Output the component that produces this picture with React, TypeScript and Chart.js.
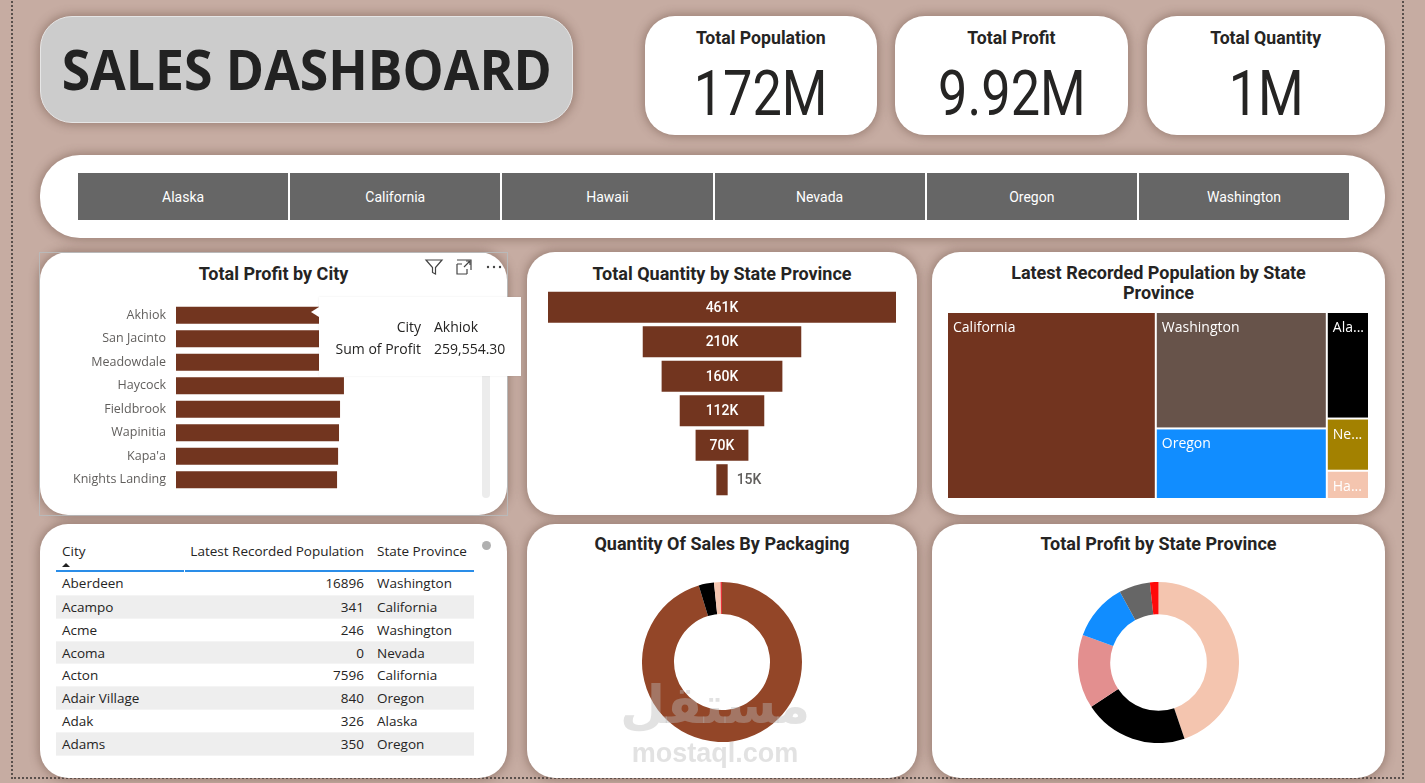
import React, { useEffect, useRef } from "react";
import { Chart, registerables } from "chart.js";

Chart.register(...registerables);

// ---------------- DATA ----------------
const dashboardTitle = "SALES DASHBOARD";
const kpiTitles = ["Total Population", "Total Profit", "Total Quantity"];
const kpiValues = ["172M", "9.92M", "1M"];

const slicerStates = ["Alaska", "California", "Hawaii", "Nevada", "Oregon", "Washington"];

const cityNames = ["Akhiok", "San Jacinto", "Meadowdale", "Haycock", "Fieldbrook", "Wapinitia", "Kapa'a", "Knights Landing"];
const cityProfit = [259554.3, 215000, 190000, 146400, 143000, 142100, 141300, 140400];
const tooltipCity = "Akhiok";
const tooltipProfit = "259,554.30";

const funnelStates = ["California", "Washington", "Oregon", "Alaska", "Nevada", "Hawaii"];
const funnelQuantity = [461000, 210000, 160000, 112000, 70000, 15000];

const treemapStates = ["California", "Washington", "Oregon", "Alaska", "Nevada", "Hawaii"];
const treemapPopulation = [85.1e6, 43.4e6, 26.3e6, 9.8e6, 4.8e6, 2.6e6];
const treemapColumnSizes = [1, 2, 3];
const treemapColors = ["#72341f", "#67534a", "#118dff", "#000000", "#a38100", "#f4c5af"];

const tableHeaders = ["City", "Latest Recorded Population", "State Province"];
const tableCities = ["Aberdeen", "Acampo", "Acme", "Acoma", "Acton", "Adair Village", "Adak", "Adams", "Addy"];
const tablePopulation = [16896, 341, 246, 0, 7596, 840, 326, 350, 369];
const tableStates = ["Washington", "California", "Washington", "Nevada", "California", "Oregon", "Alaska", "Oregon", "Washington"];

const packagingTypes = ["Each", "Packet", "Bag", "Pair"];
const packagingQuantity = [953000, 31000, 13000, 3000];
const packagingColors = ["#934628", "#000000", "#f4c5af", "#e8333a"];

const profitStates = ["California", "Washington", "Oregon", "Alaska", "Nevada", "Hawaii"];
const profitByState = [4.44e6, 2.08e6, 1.47e6, 1.14e6, 0.62e6, 0.17e6];
const profitColors = ["#f4c5af", "#000000", "#e38f8f", "#118dff", "#666666", "#ff0a0a"];

// ---------------- STYLE ----------------
const PAGE_BG = "#c6aca2";
const DIN = "Roboto, 'DejaVu Sans', sans-serif";
const UI = "'Segoe UI', 'Open Sans', sans-serif";
const TEXT = "#252423";
const SHADOW = "0 0 10px 2px rgba(105,75,65,0.45)";

const sum = (a: number[]) => a.reduce((s, v) => s + v, 0);

// treemap drawing through the chart's own linear scales
const treemapPlugin = {
  id: "treemapCells",
  afterDatasetsDraw(chart: any) {
    const { ctx } = chart;
    const xs = chart.scales.x;
    const ys = chart.scales.y;
    const total = sum(treemapPopulation);
    let idx = 0;
    let x0 = 0;
    ctx.save();
    ctx.font = `14px ${UI}`;
    ctx.textBaseline = "top";
    treemapColumnSizes.forEach((count) => {
      const vals = treemapPopulation.slice(idx, idx + count);
      const colSum = sum(vals);
      const x1 = x0 + colSum / total;
      let y0 = 0;
      vals.forEach((v, k) => {
        const i = idx + k;
        const y1 = y0 + v / colSum;
        const left = xs.getPixelForValue(x0) + 1;
        const right = xs.getPixelForValue(x1) - 1;
        const top = ys.getPixelForValue(y0) + 1;
        const bottom = ys.getPixelForValue(y1) - 1;
        ctx.fillStyle = treemapColors[i];
        ctx.fillRect(left, top, right - left, bottom - top);
        let label = treemapStates[i];
        const maxW = right - left - 6;
        if (ctx.measureText(label).width > maxW) {
          let n = label.length;
          while (n > 1 && ctx.measureText(label.slice(0, n) + "...").width > maxW) n--;
          label = label.slice(0, n) + "...";
        }
        ctx.fillStyle = "#ffffff";
        ctx.fillText(label, left + 5, top + 8);
        y0 = y1;
      });
      idx += count;
      x0 = x1;
    });
    ctx.restore();
  },
};

const funnelLabelPlugin = {
  id: "funnelLabels",
  afterDatasetsDraw(chart: any) {
    const ctx = chart.ctx;
    const meta = chart.getDatasetMeta(0);
    ctx.save();
    ctx.font = `500 14px ${DIN}`;
    ctx.textBaseline = "middle";
    meta.data.forEach((bar: any, i: number) => {
      const label = Math.round(funnelQuantity[i] / 1000) + "K";
      const left = Math.min(bar.x, bar.base);
      const right = Math.max(bar.x, bar.base);
      const w = ctx.measureText(label).width;
      if (right - left > w + 8) {
        ctx.fillStyle = "#ffffff";
        ctx.textAlign = "center";
        ctx.fillText(label, (left + right) / 2, bar.y + 1);
      } else {
        ctx.fillStyle = "#605e5c";
        ctx.textAlign = "left";
        ctx.fillText(label, right + 9, bar.y + 1);
      }
    });
    ctx.restore();
  },
};

function Card(props: any) {
  const { left, top, width, height, bg = "#ffffff", radius = 28, children, style } = props;
  return (
    <div
      style={{
        position: "absolute",
        left,
        top,
        width,
        height,
        background: bg,
        borderRadius: radius,
        boxShadow: SHADOW,
        ...style,
      }}
    >
      {children}
    </div>
  );
}

function CardTitle({ text, top = 12 }: any) {
  return (
    <div
      style={{
        position: "absolute",
        left: 0,
        right: 0,
        top,
        textAlign: "center",
        fontFamily: DIN,
        fontWeight: 700,
        fontSize: 18,
        lineHeight: "20px",
        color: TEXT,
        whiteSpace: "nowrap",
      }}
    >
      {text}
    </div>
  );
}

function Abs(props: any) {
  const { left, top, width, height, children, style } = props;
  return <div style={{ position: "absolute", left, top, width, height, ...style }}>{children}</div>;
}

export default function App() {
  const barRef = useRef<HTMLCanvasElement>(null);
  const funnelRef = useRef<HTMLCanvasElement>(null);
  const treeRef = useRef<HTMLCanvasElement>(null);
  const packRef = useRef<HTMLCanvasElement>(null);
  const profitRef = useRef<HTMLCanvasElement>(null);

  useEffect(() => {
    const charts: Chart[] = [];
    const noPlugins = { legend: { display: false }, tooltip: { enabled: false } };

    charts.push(
      new Chart(barRef.current!, {
        type: "bar",
        data: {
          labels: cityNames,
          datasets: [
            {
              data: cityProfit,
              backgroundColor: "#72351f",
              categoryPercentage: 1,
              barPercentage: 0.73,
            },
          ],
        },
        options: {
          indexAxis: "y",
          responsive: false,
          animation: false,
          events: [],
          layout: { padding: 0 },
          plugins: noPlugins as any,
          scales: {
            x: { display: false, min: 0, max: 265000 },
            y: {
              grid: { display: false, drawTicks: false },
              border: { display: false },
              ticks: { padding: 10, color: "#605e5c", font: { family: UI, size: 12.5 } },
              afterFit(scale: any) {
                scale.width = 126;
              },
            },
          },
        },
      })
    );

    charts.push(
      new Chart(funnelRef.current!, {
        type: "bar",
        data: {
          labels: funnelStates,
          datasets: [
            {
              data: funnelQuantity.map((v) => [-v / 2, v / 2]) as any,
              backgroundColor: "#72351f",
              categoryPercentage: 1,
              barPercentage: 0.9,
            },
          ],
        },
        options: {
          indexAxis: "y",
          responsive: false,
          animation: false,
          events: [],
          layout: { padding: 0 },
          plugins: noPlugins as any,
          scales: {
            x: { display: false, min: -funnelQuantity[0] / 2, max: funnelQuantity[0] / 2 },
            y: { display: false },
          },
        },
        plugins: [funnelLabelPlugin],
      })
    );

    charts.push(
      new Chart(treeRef.current!, {
        type: "scatter",
        data: { datasets: [{ data: [] }] },
        options: {
          responsive: false,
          animation: false,
          events: [],
          layout: { padding: 0 },
          plugins: noPlugins as any,
          scales: {
            x: { type: "linear", min: 0, max: 1, display: false },
            y: { type: "linear", min: 0, max: 1, reverse: true, display: false },
          },
        },
        plugins: [treemapPlugin],
      })
    );

    charts.push(
      new Chart(packRef.current!, {
        type: "doughnut",
        data: {
          labels: packagingTypes,
          datasets: [{ data: packagingQuantity, backgroundColor: packagingColors, borderWidth: 0 }],
        },
        options: {
          responsive: false,
          animation: false,
          events: [],
          cutout: "60%",
          layout: { padding: 0 },
          plugins: noPlugins as any,
        },
      })
    );

    charts.push(
      new Chart(profitRef.current!, {
        type: "doughnut",
        data: {
          labels: profitStates,
          datasets: [{ data: profitByState, backgroundColor: profitColors, borderWidth: 0 }],
        },
        options: {
          responsive: false,
          animation: false,
          events: [],
          cutout: "60%",
          layout: { padding: 0 },
          plugins: noPlugins as any,
        },
      })
    );

    return () => charts.forEach((c) => c.destroy());
  }, []);

  const kpiBoxes = [
    { left: 645, width: 232 },
    { left: 895, width: 233 },
    { left: 1147, width: 238 },
  ];

  return (
    <div
      style={{
        position: "fixed",
        left: 0,
        top: 0,
        width: 1425,
        height: 783,
        background: PAGE_BG,
        overflow: "hidden",
        fontFamily: UI,
      }}
    >
      {/* canvas border (dotted) */}
      <div
        style={{
          position: "absolute",
          left: 11,
          top: -4,
          width: 1393,
          height: 783,
          border: "2px dotted #5a504c",
          boxSizing: "border-box",
        }}
      />

      {/* Title */}
      <Card left={40} top={16} width={533} height={107} bg="#cccccc" radius={32} style={{ border: "1px solid #e6e6e6", boxSizing: "border-box" }}>
        <div
          style={{
            position: "absolute",
            left: 0,
            right: 0,
            top: 21,
            textAlign: "center",
            fontFamily: "'Open Sans', sans-serif",
            fontWeight: 700,
            fontSize: 55,
            lineHeight: "62px",
            color: "#222222",
            whiteSpace: "nowrap",
          }}
        >
          <span style={{ display: "inline-block", transform: "scaleX(0.94)" }}>{dashboardTitle}</span>
        </div>
      </Card>

      {/* KPIs */}
      {kpiBoxes.map((b, i) => (
        <Card key={i} left={b.left} top={16} width={b.width} height={119} radius={30}>
          <div
            style={{
              position: "absolute",
              left: 0,
              right: 0,
              top: 10,
              textAlign: "center",
              fontFamily: DIN,
              fontWeight: 700,
              fontSize: 19,
              color: TEXT,
              whiteSpace: "nowrap",
            }}
          >
            <span style={{ display: "inline-block", transform: "scaleX(0.93)" }}>{kpiTitles[i]}</span>
          </div>
          <div
            style={{
              position: "absolute",
              left: 0,
              right: 0,
              top: 41,
              textAlign: "center",
              fontFamily: DIN,
              fontWeight: 400,
              fontSize: 63,
              lineHeight: "74px",
              color: TEXT,
            }}
          >
            <span style={{ display: "inline-block", transform: "scaleX(0.83)" }}>{kpiValues[i]}</span>
          </div>
        </Card>
      ))}

      {/* Slicer */}
      <Card left={40} top={155} width={1345} height={83} radius={40}>
        <div
          style={{
            position: "absolute",
            left: 38,
            top: 18,
            width: 1271,
            height: 47,
            display: "flex",
            background: "#ffffff",
          }}
        >
          {slicerStates.map((s, i) => (
            <div
              key={s}
              style={{
                flex: 1,
                marginLeft: i === 0 ? 0 : 2,
                background: "#666666",
                color: "#ffffff",
                display: "flex",
                alignItems: "center",
                justifyContent: "center",
                fontFamily: DIN,
                fontSize: 14,
              }}
            >
              {s}
            </div>
          ))}
        </div>
      </Card>

      {/* Row 2 cards */}
      <Card left={40} top={252} width={467} height={263}>
        <CardTitle text="Total Profit by City" />
      </Card>
      <div style={{ position: "absolute", left: 39, top: 252, width: 469, height: 264, border: "1px solid #b9b9b9", boxSizing: "border-box" }} />
      <Card left={527} top={252} width={390} height={263}>
        <CardTitle text="Total Quantity by State Province" />
      </Card>
      <Card left={932} top={252} width={453} height={263}>
        <CardTitle text={"Latest Recorded Population by State"} top={11} />
        <CardTitle text={"Province"} top={31} />
      </Card>

      {/* Row 3 cards */}
      <Card left={40} top={524} width={467} height={254} />
      <Card left={527} top={524} width={390} height={254}>
        <CardTitle text="Quantity Of Sales By Packaging" top={10} />
      </Card>
      <Card left={932} top={524} width={453} height={254}>
        <CardTitle text="Total Profit by State Province" top={10} />
      </Card>

      {/* Charts */}
      <Abs left={50} top={286} width={430} height={223}>
        <canvas ref={barRef} width={430} height={223} style={{ width: 430, height: 223 }} />
      </Abs>
      <Abs left={548} top={290} width={348} height={207}>
        <canvas ref={funnelRef} width={348} height={207} style={{ width: 348, height: 207 }} />
      </Abs>
      <Abs left={947} top={312} width={422} height={187}>
        <canvas ref={treeRef} width={422} height={187} style={{ width: 422, height: 187 }} />
      </Abs>
      <Abs left={642} top={582} width={160} height={160}>
        <canvas ref={packRef} width={160} height={160} style={{ width: 160, height: 160 }} />
      </Abs>
      <Abs left={1078} top={582} width={161} height={161}>
        <canvas ref={profitRef} width={161} height={161} style={{ width: 161, height: 161 }} />
      </Abs>

      {/* Visual header icons */}
      <Abs left={424} top={257} width={20} height={20}>
        <svg width="20" height="20" viewBox="0 0 20 20">
          <path d="M2 3 H18 L11.5 10.5 V17 L8.5 15.5 V10.5 Z" fill="none" stroke="#444" strokeWidth="1.2" />
        </svg>
      </Abs>
      <Abs left={454} top={257} width={20} height={20}>
        <svg width="20" height="20" viewBox="0 0 20 20">
          <path d="M3 7 V17 H13" fill="none" stroke="#444" strokeWidth="1.2" />
          <path d="M3 7 H8 M13 17 V12 M3 3 H17 V13" fill="none" stroke="#444" strokeWidth="1.2" />
          <path d="M10 10 L16 4 M12 4 H16 V8" fill="none" stroke="#444" strokeWidth="1.2" />
        </svg>
      </Abs>
      <Abs left={485} top={257} width={20} height={20}>
        <svg width="20" height="20" viewBox="0 0 20 20">
          <circle cx="3" cy="10" r="1.2" fill="#444" />
          <circle cx="9" cy="10" r="1.2" fill="#444" />
          <circle cx="15" cy="10" r="1.2" fill="#444" />
        </svg>
      </Abs>

      {/* scrollbar of bar chart */}
      <Abs left={482} top={368} width={8} height={130} style={{ background: "#ececec", borderRadius: 4 }} />

      {/* tooltip overlay */}
      <Abs left={319} top={297} width={202} height={79} style={{ background: "#ffffff", boxShadow: "0 0 2px rgba(0,0,0,0.08)" }}>
        <div style={{ position: "absolute", left: -8, top: 10, width: 0, height: 0, borderTop: "5px solid transparent", borderBottom: "5px solid transparent", borderRight: "8px solid #ffffff" }} />
        <div style={{ position: "absolute", left: 0, top: 19, width: 102, textAlign: "right", fontFamily: UI, fontSize: 14, color: TEXT, lineHeight: "22px" }}>
          <div>City</div>
          <div>Sum of Profit</div>
        </div>
        <div style={{ position: "absolute", left: 115, top: 19, fontFamily: UI, fontSize: 14, color: TEXT, lineHeight: "22px" }}>
          <div>{tooltipCity}</div>
          <div>{tooltipProfit}</div>
        </div>
      </Abs>

      {/* Table */}
      <Abs left={56} top={537} width={418} height={225} style={{ overflow: "hidden", fontFamily: UI, fontSize: 13.5, color: TEXT }}>
        <div style={{ display: "flex", height: 35 }}>
          <div style={{ width: 128, borderBottom: "2px solid #2a8de8", position: "relative" }}>
            <div style={{ position: "absolute", left: 6, top: 5 }}>{tableHeaders[0]}</div>
            <div style={{ position: "absolute", left: 6, top: 26, width: 0, height: 0, borderLeft: "4px solid transparent", borderRight: "4px solid transparent", borderBottom: "4px solid #222" }} />
          </div>
          <div style={{ width: 1 }} />
          <div style={{ width: 184, borderBottom: "2px solid #2a8de8", position: "relative" }}>
            <div style={{ position: "absolute", right: 5, top: 5, whiteSpace: "nowrap" }}>{tableHeaders[1]}</div>
          </div>
          <div style={{ width: 105, borderBottom: "2px solid #2a8de8", position: "relative" }}>
            <div style={{ position: "absolute", left: 8, top: 5, whiteSpace: "nowrap" }}>{tableHeaders[2]}</div>
          </div>
        </div>
        {tableCities.map((c, i) => (
          <div key={c} style={{ display: "flex", height: 22.85, background: i % 2 === 1 ? "#eeeeee" : "#ffffff", borderTop: i > 0 ? "1px solid #f4f4f4" : "none", boxSizing: "border-box", lineHeight: "22px" }}>
            <div style={{ width: 129, paddingLeft: 6, boxSizing: "border-box", whiteSpace: "nowrap" }}>{c}</div>
            <div style={{ width: 184, textAlign: "right", paddingRight: 5, boxSizing: "border-box" }}>{tablePopulation[i]}</div>
            <div style={{ width: 105, paddingLeft: 8, boxSizing: "border-box", whiteSpace: "nowrap" }}>{tableStates[i]}</div>
          </div>
        ))}
      </Abs>
      <Abs left={482} top={541} width={9} height={9} style={{ background: "#b0b0b0", borderRadius: 5 }} />

      {/* watermark */}
      <Abs left={610} top={672} width={210} height={110} style={{ textAlign: "center", color: "rgba(185,185,185,0.42)", pointerEvents: "none" }}>
        <div style={{ fontFamily: "'DejaVu Sans', sans-serif", fontWeight: 700, fontSize: 52, lineHeight: "66px", direction: "rtl" }}>مستقل</div>
        <div style={{ fontFamily: "'Liberation Sans', Arial, sans-serif", fontWeight: 700, fontSize: 27, lineHeight: "30px", marginTop: 0 }}>mostaql.com</div>
      </Abs>
    </div>
  );
}
